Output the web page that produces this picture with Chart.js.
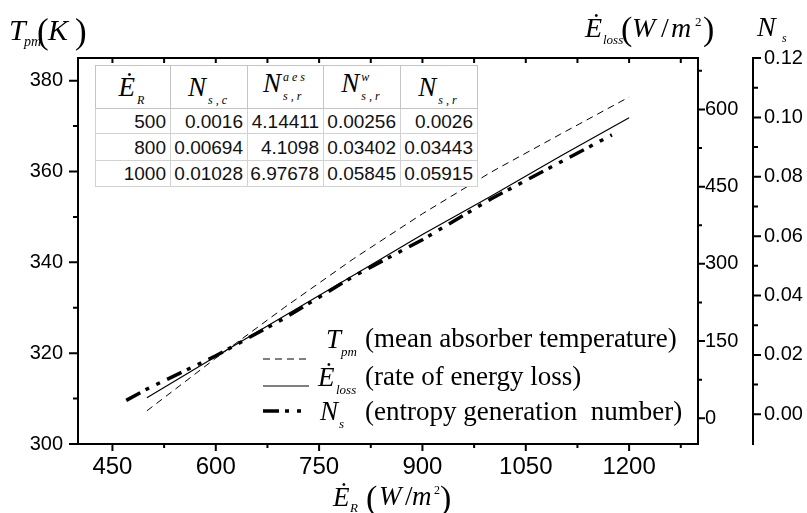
<!DOCTYPE html>
<html>
<head>
<meta charset="utf-8">
<script src="https://cdn.jsdelivr.net/npm/chart.js"></script>
<style>
  html, body { margin: 0; padding: 0; background: #fff; }
  #wrap { position: relative; width: 807px; height: 513px; overflow: hidden; }
  #chart { position: absolute; left: 0; top: 0; }
  .t { position: absolute; line-height: 1; white-space: pre; color: #000;
       font-family: "Liberation Serif", "Times New Roman", serif; }
  .i { font-style: italic; }
  #tbl { position: absolute; left: 95px; top: 65px; border-collapse: collapse;
         background: #fff; table-layout: fixed; }
  #tbl th { height: 42px; padding: 0; border: 1px solid #c4c4c4; font-weight: normal;
            font-family: "Liberation Serif", "Times New Roman", serif; font-size: 27px;
            font-style: italic; line-height: 1; text-align: center; vertical-align: middle; }
  #tbl th .sb { font-size: 12px; position: relative; top: 8px; letter-spacing: 3px; margin-left: 2px; }
  #tbl th .ss { display: inline-block; vertical-align: -8px; font-size: 12px; line-height: 19px;
                text-align: left; letter-spacing: 3px; margin-left: 2px; }
  #tbl th .ss span { display: block; }
  #tbl tbody { border: 1.5px solid #555; }
  #tbl td { padding: 0 4px 0 0; border: 1px solid #d2d2d2; text-align: right; vertical-align: middle;
            font-family: "Liberation Sans", Arial, sans-serif; font-size: 19px; line-height: 1; color: #111; }
</style>
</head>
<body>
<div id="wrap">
  <canvas id="chart" width="807" height="513"></canvas>
  <table id="tbl">
    <colgroup><col style="width:75px"><col style="width:77px"><col style="width:76px"><col style="width:77px"><col style="width:77px"></colgroup>
    <thead>
      <tr>
        <th>Ė<span class="sb">R</span></th>
        <th>N<span class="sb">s,c</span></th>
        <th>N<span class="ss"><span>aes</span><span>s,r</span></span></th>
        <th>N<span class="ss"><span>w</span><span>s,r</span></span></th>
        <th>N<span class="sb">s,r</span></th>
      </tr>
    </thead>
    <tbody id="tbody"></tbody>
  </table>
</div>
<script>
// E_R grid and series
const erGrid = [500, 600, 700, 800, 900, 1000, 1100, 1200];
const tpm = [307.3, 318.9, 330.1, 340.8, 350.7, 359.9, 368.2, 376.4];
const eLoss = [40, 120, 199, 278, 357, 432, 509, 584];
const erNs = [470, 500, 600, 700, 800, 900, 1000, 1100, 1175];
const ns = [0.0047, 0.0085, 0.0197, 0.0324, 0.0465, 0.0588, 0.0726, 0.0849, 0.0941];

// tick labels
const xTicks = [450, 600, 750, 900, 1050, 1200];
const tpmTicks = [300, 320, 340, 360, 380];
const lossTicks = [0, 150, 300, 450, 600];
const nsTicks = [0, 0.02, 0.04, 0.06, 0.08, 0.10, 0.12];

// inset table
const tableEr = ['500', '800', '1000'];
const tableNsc = ['0.0016', '0.00694', '0.01028'];
const tableNsrAes = ['4.14411', '4.1098', '6.97678'];
const tableNsrW = ['0.00256', '0.03402', '0.05845'];
const tableNsr = ['0.0026', '0.03443', '0.05915'];

const rowHeights = [25, 27, 26];
const tbody = document.getElementById('tbody');
tableEr.forEach(function(er, i) {
    const tr = document.createElement('tr');
    tr.style.height = rowHeights[i] + 'px';
    [er, tableNsc[i], tableNsrAes[i], tableNsrW[i], tableNsr[i]].forEach(function(v) {
        const td = document.createElement('td');
        td.textContent = v;
        tr.appendChild(td);
    });
    tbody.appendChild(tr);
});

// titles and legend text: [text, x, baseline, size, italic]
const textParts = [
    ['T', 9, 40, 30, true], ['pm', 24, 47, 14, true], ['(', 37, 43, 35, false],
    ['K', 48, 40, 30, true], [')', 75, 43, 35, false],
    ['Ė', 585, 37, 28, true], ['loss', 603, 44, 13, true], ['(', 621, 40, 34, false],
    ['W', 632, 37, 28, true], ['/', 661, 37, 28, false], ['m', 671, 37, 28, true],
    ['2', 695, 26, 13, false], [')', 703, 40, 34, false],
    ['N', 757, 36, 28, true], ['s', 782, 42, 12, true],
    ['Ė', 333, 507, 27, true], ['R', 350, 512, 13, true], ['(', 366, 509, 34, false],
    ['W', 379, 506, 27, true], ['/', 405, 506, 27, false], ['m', 412, 506, 27, true],
    ['2', 434, 494, 12, false], [')', 440, 509, 34, false],
    ['T', 326, 349, 27, true], ['pm', 341, 356, 13, true],
    ['(mean absorber temperature)', 365, 348, 27, false],
    ['Ė', 318, 387, 27, true], ['loss', 336, 394, 13, true],
    ['(rate of energy loss)', 365, 386, 27, false],
    ['N', 320, 421, 27, true], ['s', 339, 428, 13, true],
    ['(entropy generation  number)', 365, 421, 27, false]
];
const wrap = document.getElementById('wrap');
textParts.forEach(function(p) {
    const d = document.createElement('div');
    d.className = 't' + (p[4] ? ' i' : '');
    d.textContent = p[0];
    d.style.left = p[1] + 'px';
    d.style.top = (p[2] - 0.8375 * p[3]) + 'px';
    d.style.fontSize = p[3] + 'px';
    wrap.appendChild(d);
});

function drawTicks(chart) {
    const ctx = chart.ctx;
    const a = chart.chartArea;
    const xs = chart.scales['x'], ys = chart.scales['y'], y1s = chart.scales['y1'], y2s = chart.scales['y2'];
    ctx.save();
    ctx.setLineDash([]);
    ctx.lineCap = 'butt';
    ctx.strokeStyle = '#000';
    ctx.lineWidth = 2;
    ctx.beginPath();
    ctx.moveTo(a.left - 1, a.top);
    ctx.lineTo(a.right + 1, a.top);
    // x: bottom ticks outward, top ticks inward
    for (let v = 450; v <= 1275; v += 75) {
        const px = xs.getPixelForValue(v);
        const len = v % 150 === 0 ? 7 : 4;
        ctx.moveTo(px, a.bottom);
        ctx.lineTo(px, a.bottom + len);
        ctx.moveTo(px, a.top);
        ctx.lineTo(px, a.top + 5);
    }
    for (let v = 300; v <= 380; v += 10) {
        const py = ys.getPixelForValue(v);
        ctx.moveTo(a.left, py);
        ctx.lineTo(a.left - (v % 20 === 0 ? 9 : 5), py);
    }
    for (let v = 0; v <= 675; v += 75) {
        const py = y1s.getPixelForValue(v);
        ctx.moveTo(y1s.left, py);
        ctx.lineTo(y1s.left + (v % 150 === 0 ? 7 : 4), py);
    }
    for (let k = 0; k <= 12; k++) {
        const py = y2s.getPixelForValue(k / 100);
        ctx.moveTo(y2s.left, py);
        ctx.lineTo(y2s.left + (k % 2 === 0 ? 8 : 5), py);
    }
    ctx.stroke();
    ctx.restore();
}

// tick marks (major/minor, plus mirrored top ticks) using the chart's scales
const axisTicks = {
    id: 'axisTicks',
    afterDraw(chart) {
        try {
            drawTicks(chart);
        } catch (e) {
            chart.ctx.fillStyle = 'red';
            chart.ctx.font = '12px sans-serif';
            chart.ctx.fillText(String(e), 100, 300);
        }
    }
};

// legend line samples, styled like the datasets
const legendSamples = {
    id: 'legendSamples',
    afterDatasetsDraw(chart) {
        const ctx = chart.ctx;
        [[0, 359, 308], [1, 386, 309], [2, 411, 301]].forEach(function(r) {
            const ds = chart.data.datasets[r[0]];
            ctx.save();
            ctx.strokeStyle = ds.borderColor;
            ctx.lineWidth = ds.borderWidth;
            ctx.setLineDash(ds.borderDash || []);
            ctx.beginPath();
            ctx.moveTo(263, r[1]);
            ctx.lineTo(r[2], r[1]);
            ctx.stroke();
            ctx.restore();
        });
    }
};

function fixedTicks(list) {
    return function(scale) { scale.ticks = list.map(function(v) { return { value: v }; }); };
}
const tickFont = { family: '"Liberation Sans", Arial, sans-serif', size: 20 };
const noGrid = { display: false, drawTicks: false };
const axisBorder = { display: true, color: '#000', width: 2 };

new Chart(document.getElementById('chart'), {
    type: 'line',
    data: {
        datasets: [{
            label: 'T_pm',
            data: erGrid.map(function(x, i) { return { x: x, y: tpm[i] }; }),
            yAxisID: 'y',
            borderColor: '#000',
            borderWidth: 1,
            borderDash: [7, 5],
            pointRadius: 0
        }, {
            label: 'E_loss',
            data: erGrid.map(function(x, i) { return { x: x, y: eLoss[i] }; }),
            yAxisID: 'y1',
            borderColor: '#000',
            borderWidth: 1.2,
            pointRadius: 0
        }, {
            label: 'N_s',
            data: erNs.map(function(x, i) { return { x: x, y: ns[i] }; }),
            yAxisID: 'y2',
            borderColor: '#000',
            borderWidth: 3.5,
            borderDash: [16, 6, 4, 8, 4, 8],
            pointRadius: 0
        }]
    },
    options: {
        responsive: false,
        animation: false,
        devicePixelRatio: 1,
        layout: { padding: { top: 58, left: 0, right: 0, bottom: 0 } },
        plugins: { legend: { display: false }, tooltip: { enabled: false } },
        scales: {
            x: {
                type: 'linear', position: 'bottom', min: 400, max: 1300,
                grid: noGrid, border: axisBorder,
                afterBuildTicks: fixedTicks(xTicks),
                afterFit: function(s) { s.height = 69; },
                ticks: { font: { family: tickFont.family, size: 24 }, color: '#000', padding: 9,
                         maxRotation: 0, autoSkip: false,
                         callback: function(v) { return String(v); } }
            },
            y: {
                position: 'left', min: 300, max: 385,
                grid: noGrid, border: axisBorder,
                afterBuildTicks: fixedTicks(tpmTicks),
                afterFit: function(s) { s.width = 78; },
                ticks: { font: tickFont, color: '#000', padding: 15,
                         callback: function(v) { return String(v); } }
            },
            y1: {
                position: 'right', min: -50, max: 700,
                grid: noGrid, border: axisBorder,
                afterBuildTicks: fixedTicks(lossTicks),
                afterFit: function(s) { s.width = 55; },
                ticks: { font: tickFont, color: '#000', padding: 7,
                         callback: function(v) { return String(v); } }
            },
            y2: {
                position: 'right', min: -0.01, max: 0.12,
                grid: noGrid, border: axisBorder,
                afterBuildTicks: fixedTicks(nsTicks),
                afterFit: function(s) { s.width = 54; },
                ticks: { font: tickFont, color: '#000', padding: 11,
                         callback: function(v) { return v.toFixed(2); } }
            }
        }
    },
    plugins: [axisTicks, legendSamples]
});
</script>
</body>
</html>
